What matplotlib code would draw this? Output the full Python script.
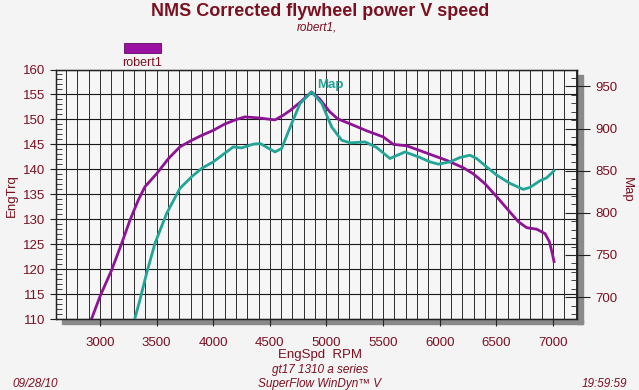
import matplotlib.pyplot as plt
from matplotlib.patches import Rectangle
from matplotlib.ticker import MultipleLocator

plt.rcParams['font.family'] = ['Liberation Sans', 'DejaVu Sans']

# EngTrq (left axis) - robert1
rpm_trq = [2927, 3000, 3103, 3191, 3265, 3338, 3397, 3500, 3603, 3706, 3809, 3898,
           4000, 4104, 4207, 4280, 4398, 4545, 4616, 4680, 4766, 4868, 4940, 5030,
           5100, 5210, 5357, 5500, 5590, 5710, 5855, 5914, 6061, 6209, 6296, 6400,
           6503, 6606, 6694, 6768, 6856, 6930, 6968, 6994, 7009]
trq = [110.1, 114.5, 119.8, 125.1, 129.8, 133.8, 136.5, 139.1, 142.1, 144.5, 145.8, 146.8,
       147.8, 149.1, 150.0, 150.5, 150.3, 149.9, 150.8, 151.8, 153.4, 155.5, 154.1, 151.5,
       150.1, 149.1, 147.7, 146.5, 145.0, 144.7, 143.5, 143.0, 141.8, 140.3, 139.1, 137.1,
       134.5, 131.8, 129.5, 128.3, 128.0, 127.1, 125.5, 123.1, 121.5]

# Map (right axis)
rpm_map = [3300, 3309, 3353, 3412, 3486, 3589, 3706, 3809, 3898, 4000, 4118, 4177,
           4251, 4353, 4415, 4545, 4604, 4680, 4766, 4868, 4958, 5046, 5134, 5210,
           5340, 5443, 5560, 5693, 5826, 5914, 5988, 6091, 6179, 6267, 6326, 6414,
           6503, 6620, 6738, 6797, 6885, 6944, 7009]
map_vals = [672.0, 675.0, 696.7, 728.3, 763.8, 799.3, 828.9, 842.7, 852.6, 860.4, 872.2, 878.2,
            877.0, 881.4, 882.2, 872.2, 876.3, 901.8, 929.5, 943.3, 929.9, 901.8, 886.1, 882.9,
            884.1, 877.5, 864.4, 872.2, 865.6, 860.4, 857.7, 860.4, 865.6, 868.3, 864.4, 854.5,
            844.7, 834.9, 827.8, 830.1, 838.0, 841.5, 849.8]

dark_red = '#7a1020'
purple = '#8e1496'
teal = '#22a596'
W, H = 639, 390

fig = plt.figure(figsize=(6.39, 3.90), dpi=100)
fig.patch.set_facecolor('#f4f4f4')

# drop shadow of the plot box
fig.add_artist(Rectangle((62 / W, 1 - 324 / H), (583 - 62) / W, 5 / H,
                         transform=fig.transFigure, color='#8a8a8a', zorder=0))
fig.add_artist(Rectangle((577 / W, 1 - 324 / H), 6 / W, (324 - 75) / H,
                         transform=fig.transFigure, color='#8a8a8a', zorder=0))

ax = fig.add_axes([56 / W, 1 - 319 / H, (577 - 56) / W, (319 - 69.5) / H])
ax.set_facecolor('#f6f6f6')
ax.plot(rpm_trq, trq, color=purple, lw=2.0, zorder=3)
ax.set_xlim(2612, 7212)
ax.set_ylim(110, 160)
ax.set_xticks(range(3000, 7001, 500))
ax.xaxis.set_minor_locator(MultipleLocator(100))
ax.yaxis.set_major_locator(MultipleLocator(5))
ax.yaxis.set_minor_locator(MultipleLocator(1))
ax.grid(True, which='both', axis='x', color='#333333', lw=0.72)
ax.grid(True, which='major', axis='y', color='#1a1a1a', lw=0.8)
ax.tick_params(axis='x', which='major', direction='out', length=5, colors=dark_red,
               labelsize=9.5, pad=8)
ax.tick_params(axis='x', which='minor', length=0)
ax.tick_params(axis='y', which='major', direction='out', length=4, colors=dark_red,
               labelsize=9.5, pad=4)
ax.tick_params(axis='y', which='minor', direction='in', length=4, color='#222222')
ax.tick_params(axis='both', which='major', color='#222222')
for s in ax.spines.values():
    s.set_color('#222222')
    s.set_linewidth(1.0)

ax2 = ax.twinx()
ax2.plot(rpm_map, map_vals, color=teal, lw=2.0, zorder=3)
ax2.set_ylim(674, 970)
ax2.yaxis.set_minor_locator(MultipleLocator(10))
ax2.set_yticks(range(700, 951, 50))
ax2.tick_params(axis='y', which='major', direction='inout', length=18, colors=dark_red,
                color='#222222', labelsize=9.5, pad=4)
ax2.tick_params(axis='y', which='minor', direction='in', length=4, color='#222222')
for s in ax2.spines.values():
    s.set_color('#222222')

# texts
fig.text(320 / W, 1 - 12 / H, 'NMS Corrected flywheel power V speed', ha='center', va='center',
         fontsize=13, fontweight='bold', color=dark_red)
fig.text(317 / W, 1 - 28 / H, 'robert1,', ha='center', va='center', fontsize=8.5,
         style='italic', color=dark_red)
fig.add_artist(Rectangle((124 / W, 1 - 53 / H), 37 / W, 10 / H, transform=fig.transFigure,
                         facecolor='#9b0fa3', edgecolor='#5a0a60', lw=0.6))
fig.text(142 / W, 1 - 63 / H, 'robert1', ha='center', va='center', fontsize=9, color=dark_red)
fig.text(330 / W, 1 - 85 / H, 'Map', ha='center', va='center', fontsize=9.5,
         fontweight='bold', color=teal)
fig.text(12 / W, 1 - 196 / H, 'EngTrq', rotation=90, ha='center', va='center',
         fontsize=9.5, color=dark_red)
fig.text(627 / W, 1 - 190 / H, 'Map', rotation=270, ha='center', va='center',
         fontsize=9.5, color=dark_red)
fig.text(320 / W, 1 - 355 / H, 'EngSpd  RPM', ha='center', va='center', fontsize=9.5,
         color=dark_red)
fig.text(320 / W, 1 - 370 / H, 'gt17 1310 a series', ha='center', va='center', fontsize=8.5,
         style='italic', color=dark_red)
fig.text(320 / W, 1 - 384 / H, 'SuperFlow WinDyn\u2122 V', ha='center', va='center',
         fontsize=8.5, style='italic', color=dark_red)
fig.text(12 / W, 1 - 384 / H, '09/28/10', ha='left', va='center', fontsize=8.5,
         style='italic', color=dark_red)
fig.text(627 / W, 1 - 384 / H, '19:59:59', ha='right', va='center', fontsize=8.5,
         style='italic', color=dark_red)

fig.savefig('out.png', dpi=100, facecolor=fig.get_facecolor())
